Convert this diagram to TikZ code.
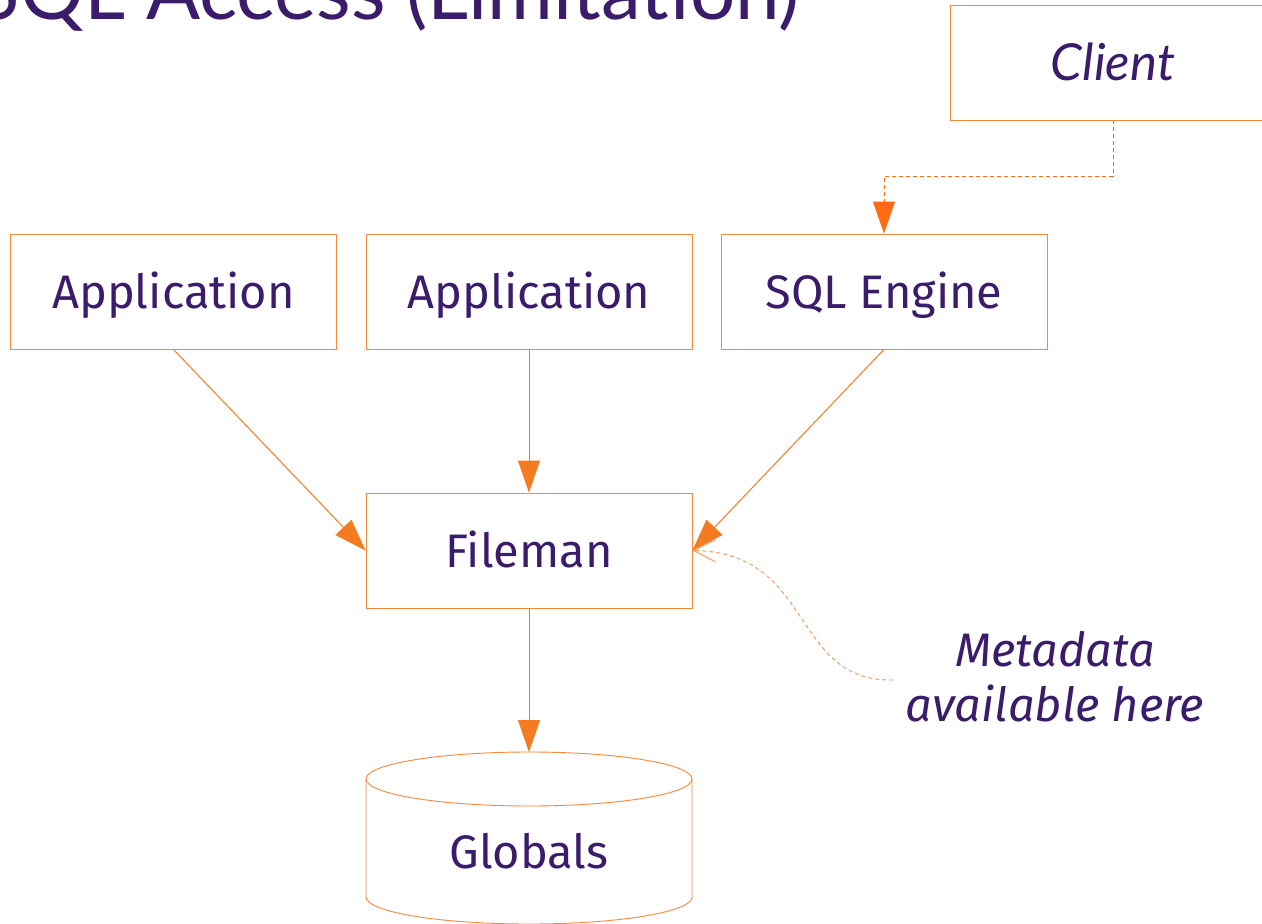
\documentclass[tikz,border=0pt]{standalone}
\usepackage{fontspec}
\setmainfont{Fira Sans}
\newfontfamily\ralefont{Lato}
\usetikzlibrary{arrows.meta}
\definecolor{boxor}{HTML}{F7893B}
\definecolor{txtpur}{HTML}{3A1C6B}
\definecolor{arror}{HTML}{F47B20}
\definecolor{cliar}{HTML}{FF6A13}
\definecolor{metaor}{HTML}{F8955A}
\tikzset{
  box/.style={draw=boxor, line width=0.9pt, minimum width=326pt, minimum height=115pt,
    inner sep=0pt, text=txtpur, font=\fontsize{47}{52}\selectfont, text height=33pt, text depth=0pt},
  conn/.style={draw=arror, line width=1pt, -{Triangle[length=32pt,width=22pt,fill=arror]}},
  cliconn/.style={draw=cliar, line width=0.9pt, dash pattern=on 4pt off 3pt, -{Triangle[length=32pt,width=22pt,fill=cliar]}},
  metaconn/.style={draw=metaor, line width=0.9pt, dash pattern=on 4pt off 3pt, -{Straight Barb[length=22pt,width=22pt]}},
}
\begin{document}
\begin{tikzpicture}[x=1pt,y=-1pt]
\clip (0,0) rectangle (1262,924);
\fill[white] (0,0) rectangle (1262,924);
\node[anchor=base east, text=txtpur, font=\ralefont\fontsize{80}{90}\selectfont, inner sep=0pt] (title) at (800,19) {SQL Access (Limitation)};
\node[box, font=\ralefont\itshape\fontsize{51}{56}\selectfont, text height=36.5pt] (client) at (1113,62.5) {Client};
\node[box] (app1) at (173.5,291.5) {Application};
\node[box] (app2) at (529,291.5) {Application};
\node[box] (sql) at (884,291.5) {SQL Engine};
\node[box] (fm) at (529,550.5) {Fileman};
% cylinder
\draw[boxor, line width=0.9pt] (366,779) -- (366,897) arc[start angle=180,end angle=0,x radius=163,y radius=27] -- (692,779);
\draw[boxor, line width=0.9pt] (529,779) ellipse[x radius=163, y radius=27];
\coordinate (globtop) at (529,752);
\node[text=txtpur, font=\fontsize{47}{52}\selectfont, inner sep=0pt, text height=33pt, text depth=0pt] (glob) at (529,852) {Globals};
\node[text=txtpur, font=\itshape\fontsize{47}{55}\selectfont, align=center, inner sep=0pt] (meta) at (1055,677) {Metadata\\available here};
\coordinate (metastart) at (893,680);
\draw[conn] (app1.south) -- (fm.west);
\draw[conn] (app2.south) -- (fm.north);
\draw[conn] (sql.south) -- (fm.east);
\draw[conn] (fm.south) -- (globtop);
\draw[cliconn] (client.south) -- ++(0,56) -| (sql.north);
\draw[metaconn] (metastart) .. controls (790,682) and (815,552) .. (fm.east);
\end{tikzpicture}
\end{document}
